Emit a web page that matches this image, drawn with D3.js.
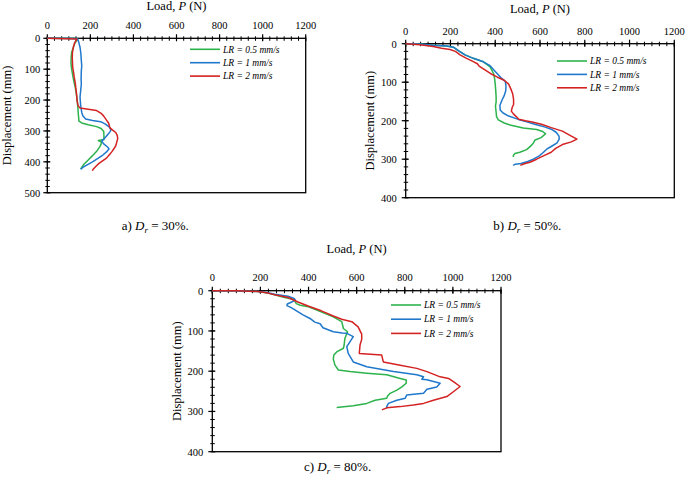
<!DOCTYPE html>
<html>
<head>
<meta charset="utf-8">
<script src="https://cdn.jsdelivr.net/npm/d3@7"></script>
<style>
  html, body { margin: 0; padding: 0; background: #fff; }
  svg { display: block; }
  text { font-family: "Liberation Serif", "Times New Roman", serif; fill: #000; }
</style>
</head>
<body>
<svg id="chart" width="685" height="480"></svg>
<script>
// ---------------- DATA ----------------
const loadTicks = [0, 200, 400, 600, 800, 1000, 1200];
const dispTicksA = [0, 100, 200, 300, 400, 500];
const dispTicksBC = [0, 100, 200, 300, 400];
const seriesNames = ["LR = 0.5 mm/s", "LR = 1 mm/s", "LR = 2 mm/s"];
const captions = ["30%.", "50%.", "80%."];

// Panel a (Dr = 30%) : [load P (N), displacement (mm)]
const a_lr05 = [[0,0],[140,1],[139,5],[128,15],[121,29],[113,45],[111,60],[110,80],[112,95],[116,112],[122,135],[130,160],[135,180],[139,202],[142,225],[144,245],[147,268],[160,274],[190,280],[229,286],[250,292],[262,302],[263,315],[263,328],[237,331],[253,337],[245,350],[229,366],[210,380],[190,394],[170,408],[160,418],[155,424]];
const a_lr1 = [[0,0],[140,1],[145,10],[152,29],[156,50],[158,72],[160,90],[158,105],[157,130],[158,148],[155,170],[152,191],[155,218],[160,240],[165,251],[178,261],[210,266],[248,270],[270,278],[287,287],[296,296],[291,303],[280,312],[268,322],[253,333],[262,342],[280,352],[287,358],[275,368],[258,378],[235,389],[210,400],[185,410],[165,418],[155,424]];
const a_lr2 = [[0,0],[138,2],[135,6],[128,13],[121,29],[117,45],[116,61],[117,80],[118,94],[122,110],[125,126],[130,145],[132,159],[135,175],[137,191],[139,205],[143,218],[152,226],[190,230],[229,234],[250,243],[262,252],[275,265],[285,275],[291,290],[305,298],[318,305],[325,315],[327,325],[322,338],[318,348],[310,357],[300,367],[291,375],[275,388],[260,395],[240,405],[225,415],[212,425],[209,429]];

// Panel b (Dr = 50%)
const b_lr05 = [[0,0],[64,1],[123,4],[183,6],[213,9],[235,18],[265,29],[302,38],[347,47],[377,60],[393,78],[397,90],[400,105],[402,120],[404,138],[404,151],[401,162],[404,178],[406,190],[414,198],[440,206],[466,211],[525,219],[585,223],[612,228],[625,234],[605,244],[578,250],[568,260],[558,266],[540,275],[510,282],[488,285],[481,290],[481,294]];
const b_lr1 = [[0,0],[64,1],[123,4],[183,6],[213,9],[235,18],[265,29],[302,38],[347,47],[377,57],[400,72],[425,88],[445,98],[448,110],[447,122],[440,135],[430,147],[421,160],[422,172],[435,180],[460,188],[500,196],[541,203],[580,210],[620,216],[650,222],[672,230],[685,240],[686,248],[675,258],[650,267],[630,274],[612,284],[595,292],[570,300],[545,306],[515,311],[490,313],[480,316]];
const b_lr2 = [[0,0],[64,3],[123,7],[160,12],[198,15],[222,20],[243,29],[272,38],[300,46],[320,52],[328,58],[354,68],[380,78],[410,87],[440,95],[460,105],[470,118],[478,130],[482,145],[482,158],[476,165],[472,175],[482,183],[495,190],[505,196],[535,200],[570,204],[610,210],[650,218],[700,227],[740,240],[765,248],[740,255],[700,262],[670,272],[650,282],[620,290],[585,300],[555,308],[530,312],[512,316]];

// Panel c (Dr = 80%)
const c_lr05 = [[0,0],[100,0],[190,2],[232,6],[259,10],[301,17],[340,22],[349,32],[365,36],[400,40],[434,48],[470,57],[503,65],[538,77],[545,94],[562,102],[551,119],[548,135],[545,143],[517,152],[505,160],[503,170],[510,185],[524,197],[572,201],[642,205],[725,209],[781,218],[806,222],[806,230],[788,239],[767,247],[739,255],[728,262],[725,267],[677,272],[642,280],[586,286],[517,290]];
const c_lr1 = [[0,0],[100,0],[190,2],[232,5],[259,9],[315,14],[340,19],[345,23],[330,28],[312,33],[310,37],[328,42],[350,50],[377,60],[406,69],[426,78],[448,82],[460,92],[503,102],[540,105],[559,106],[586,114],[572,127],[559,139],[565,156],[586,177],[642,189],[753,201],[850,209],[878,214],[871,220],[892,221],[947,230],[933,239],[892,245],[878,255],[808,259],[802,267],[767,272],[732,280],[725,288],[725,292]];
const c_lr2 = [[0,0],[100,0],[190,2],[232,6],[259,10],[315,17],[356,28],[398,38],[453,50],[503,63],[538,71],[580,77],[606,90],[621,108],[621,121],[614,135],[611,156],[704,160],[711,177],[781,185],[850,193],[892,201],[947,214],[982,218],[1002,226],[1030,238],[1002,251],[975,263],[919,272],[878,280],[836,284],[781,288],[725,291],[705,296]];

// ---------------- DRAWING ----------------
const colors = ["#2cb34c", "#1f78cc", "#d42222"];
const svg = d3.select("#chart");

function drawPanel(cfg) {
  const g = svg.append("g");
  const x = d3.scaleLinear().domain([0, 1200]).range([cfg.left, cfg.right]);
  const y = d3.scaleLinear().domain([0, cfg.yMax]).range([cfg.top, cfg.bottom]);

  // frame
  g.append("rect")
    .attr("x", cfg.left).attr("y", cfg.top)
    .attr("width", cfg.right - cfg.left).attr("height", cfg.bottom - cfg.top)
    .attr("fill", "none").attr("stroke", "#000").attr("stroke-width", 1.3);

  // minor ticks
  const xMinor = d3.range(0, 1200.01, 200 / 6);
  const yMinor = d3.range(0, cfg.yMax + 0.01, 20);
  g.selectAll(".xmin").data(xMinor).enter().append("line")
    .attr("x1", d => x(d)).attr("x2", d => x(d))
    .attr("y1", cfg.top - 2).attr("y2", cfg.top + 2.5)
    .attr("stroke", "#000").attr("stroke-width", 1);
  g.selectAll(".ymin").data(yMinor).enter().append("line")
    .attr("y1", d => y(d)).attr("y2", d => y(d))
    .attr("x1", cfg.left - 2).attr("x2", cfg.left + 2.5)
    .attr("stroke", "#000").attr("stroke-width", 1);

  // major ticks + labels
  g.selectAll(".xmaj").data(loadTicks).enter().append("line")
    .attr("x1", d => x(d)).attr("x2", d => x(d))
    .attr("y1", cfg.top - 4).attr("y2", cfg.top + 3)
    .attr("stroke", "#000").attr("stroke-width", 1.2);
  g.selectAll(".xlab").data(loadTicks).enter().append("text")
    .attr("x", d => x(d)).attr("y", cfg.tickY)
    .attr("text-anchor", "middle").attr("font-size", 10.5)
    .text(d => d);
  g.selectAll(".ymaj").data(cfg.yTicks).enter().append("line")
    .attr("y1", d => y(d)).attr("y2", d => y(d))
    .attr("x1", cfg.left - 4).attr("x2", cfg.left + 3)
    .attr("stroke", "#000").attr("stroke-width", 1.2);
  g.selectAll(".ylab").data(cfg.yTicks).enter().append("text")
    .attr("x", cfg.left - cfg.yLabGap).attr("y", d => y(d) + 3.8)
    .attr("text-anchor", "end").attr("font-size", 10.5)
    .text(d => d);

  // axis titles
  const t = g.append("text")
    .attr("x", (cfg.left + cfg.right) / 2).attr("y", cfg.titleY)
    .attr("text-anchor", "middle").attr("font-size", 12.5);
  t.append("tspan").text("Load, ");
  t.append("tspan").attr("font-style", "italic").text("P");
  t.append("tspan").text(" (N)");

  g.append("text")
    .attr("transform", `translate(${cfg.yTitleX},${(cfg.top + cfg.bottom) / 2}) rotate(-90)`)
    .attr("text-anchor", "middle").attr("font-size", 12.5)
    .text("Displacement (mm)");

  // curves
  const line = d3.line().x(d => x(d[0])).y(d => y(d[1]));
  cfg.series.forEach((s, i) => {
    g.append("path").datum(s)
      .attr("d", line)
      .attr("fill", "none")
      .attr("stroke", colors[i])
      .attr("stroke-width", 1.5)
      .attr("stroke-linejoin", "round");
  });

  // legend
  seriesNames.forEach((name, i) => {
    const ly = cfg.legY + i * cfg.legStep;
    g.append("line")
      .attr("x1", cfg.legX).attr("x2", cfg.legX + 30)
      .attr("y1", ly).attr("y2", ly)
      .attr("stroke", colors[i]).attr("stroke-width", 1.6);
    g.append("text")
      .attr("x", cfg.legX + 33).attr("y", ly + 3.2)
      .attr("font-size", 9.5).attr("font-style", "italic")
      .text(name);
  });

  // caption
  const c = g.append("text")
    .attr("x", cfg.capX).attr("y", cfg.capY)
    .attr("font-size", 13);
  c.append("tspan").text(cfg.capLetter + ") ");
  c.append("tspan").attr("font-style", "italic").text("D");
  c.append("tspan").attr("font-style", "italic").attr("font-size", 9).attr("dy", 3).text("r");
  c.append("tspan").attr("dy", -3).text(" = " + cfg.capText);
}

drawPanel({
  left: 47.3, right: 305.7, top: 38.3, bottom: 192.7, yMax: 500, yTicks: dispTicksA,
  tickY: 28.8, titleY: 10.2, yTitleX: 10.5, yLabGap: 7,
  series: [a_lr05, a_lr1, a_lr2],
  legX: 190, legY: 49.3, legStep: 13.4,
  capX: 121.7, capY: 229.5, capLetter: "a", capText: captions[0]
});
drawPanel({
  left: 405.7, right: 674.3, top: 43.7, bottom: 197.7, yMax: 400, yTicks: dispTicksBC,
  tickY: 35.3, titleY: 12.6, yTitleX: 373.5, yLabGap: 9,
  series: [b_lr05, b_lr1, b_lr2],
  legX: 557, legY: 61, legStep: 13.4,
  capX: 493.3, capY: 229.5, capLetter: "b", capText: captions[1]
});
drawPanel({
  left: 212.3, right: 501, top: 290.7, bottom: 451.7, yMax: 400, yTicks: dispTicksBC,
  tickY: 280.6, titleY: 253.3, yTitleX: 180.5, yLabGap: 9,
  series: [c_lr05, c_lr1, c_lr2],
  legX: 391, legY: 305, legStep: 14.2,
  capX: 304, capY: 470.5, capLetter: "c", capText: captions[2]
});
</script>
</body>
</html>
